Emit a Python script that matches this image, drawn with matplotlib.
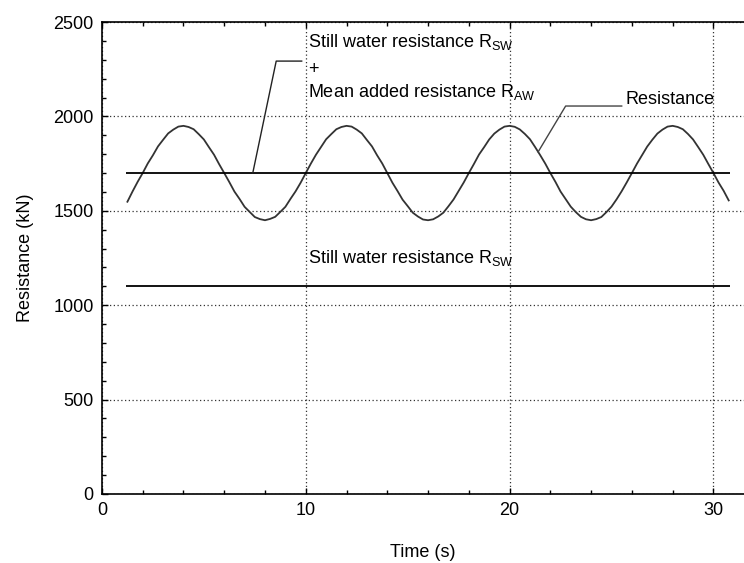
import matplotlib.pyplot as plt
import numpy as np

plt.rcParams['font.family'] = ['Liberation Sans', 'DejaVu Sans']
plt.rcParams['mathtext.fontset'] = 'custom'
plt.rcParams['mathtext.rm'] = 'Liberation Sans'

# resistance time history (every 0.25 s)
time = np.arange(1.25, 30.76, 0.25)
resistance = [
    1548, 1602, 1653,
    1700, 1751, 1794, 1841, 1876, 1910, 1930, 1946, 1950, 1944, 1932, 1906, 1878, 1837, 1797, 1747,
    1700, 1652, 1602, 1563, 1521, 1494, 1467, 1456, 1450, 1457, 1468, 1494, 1521, 1563, 1603, 1649,
    1700, 1750, 1797, 1838, 1879, 1906, 1932, 1944, 1950, 1946, 1930, 1910, 1875, 1841, 1794, 1751,
    1700, 1649, 1605, 1559, 1525, 1490, 1470, 1454, 1450, 1455, 1470, 1490, 1524, 1560, 1605, 1650,
    1700, 1748, 1798, 1837, 1878, 1909, 1930, 1946, 1950, 1945, 1931, 1907, 1879, 1838, 1795, 1750,
    1700, 1653, 1602, 1562, 1522, 1493, 1468, 1455, 1450, 1456, 1467, 1493, 1522, 1561, 1604, 1651,
    1700, 1750, 1795, 1840, 1876, 1909, 1930, 1946, 1950, 1944, 1932, 1907, 1878, 1838, 1797, 1748,
    1700, 1650, 1606, 1555,
]

t_start, t_end = 1.2, 30.8
r_still = 1100      # still water resistance R_SW
r_mean = 1700       # R_SW + mean added resistance R_AW

fig = plt.figure(figsize=(7.44, 5.63), dpi=100)
ax = fig.add_axes([0.137, 0.1226, 0.863, 0.8383])

ax.plot(time, resistance, color='#333333', lw=1.3)
ax.hlines([r_mean, r_still], t_start, t_end, colors='black', lw=1.3)

# leader lines + labels
ax.plot([7.4, 8.55, 9.8], [1700, 2293, 2293], color='#222222', lw=1.0)
ax.plot([21.4, 22.75, 25.5], [1812, 2055, 2055], color='#444444', lw=1.0)
ax.text(10.1, 2395, r'Still water resistance R$_\mathrm{SW}$', fontsize=13, va='center')
ax.text(10.1, 2250, '+', fontsize=13, va='center')
ax.text(10.1, 2130, r'Mean added resistance R$_\mathrm{AW}$', fontsize=13, va='center')
ax.text(25.7, 2087, 'Resistance', fontsize=13, va='center')
ax.text(10.1, 1250, r'Still water resistance R$_\mathrm{SW}$', fontsize=13, va='center')

ax.set_xlim(0, 31.5)
ax.set_ylim(0, 2500)
ax.set_xticks([0, 10, 20, 30])
ax.set_xticks(np.arange(0, 32, 2), minor=True)
ax.set_yticks([0, 500, 1000, 1500, 2000, 2500])
ax.set_yticks(np.arange(0, 2501, 100), minor=True)
ax.tick_params(which='both', direction='in', top=True, right=False, labelsize=13, width=1.0)
ax.tick_params(which='major', length=4, pad=6)
ax.tick_params(which='minor', length=3)
ax.grid(True, which='major', linestyle=(0, (1, 2)), color='#333333', lw=0.9)
ax.spines['right'].set_visible(False)
for s in ['left', 'top', 'bottom']:
    ax.spines[s].set_linewidth(1.2)

ax.set_xlabel('Time (s)', fontsize=13, labelpad=18)
ax.set_ylabel('Resistance (kN)', fontsize=13, labelpad=14)

fig.savefig('out.png', dpi=100)
